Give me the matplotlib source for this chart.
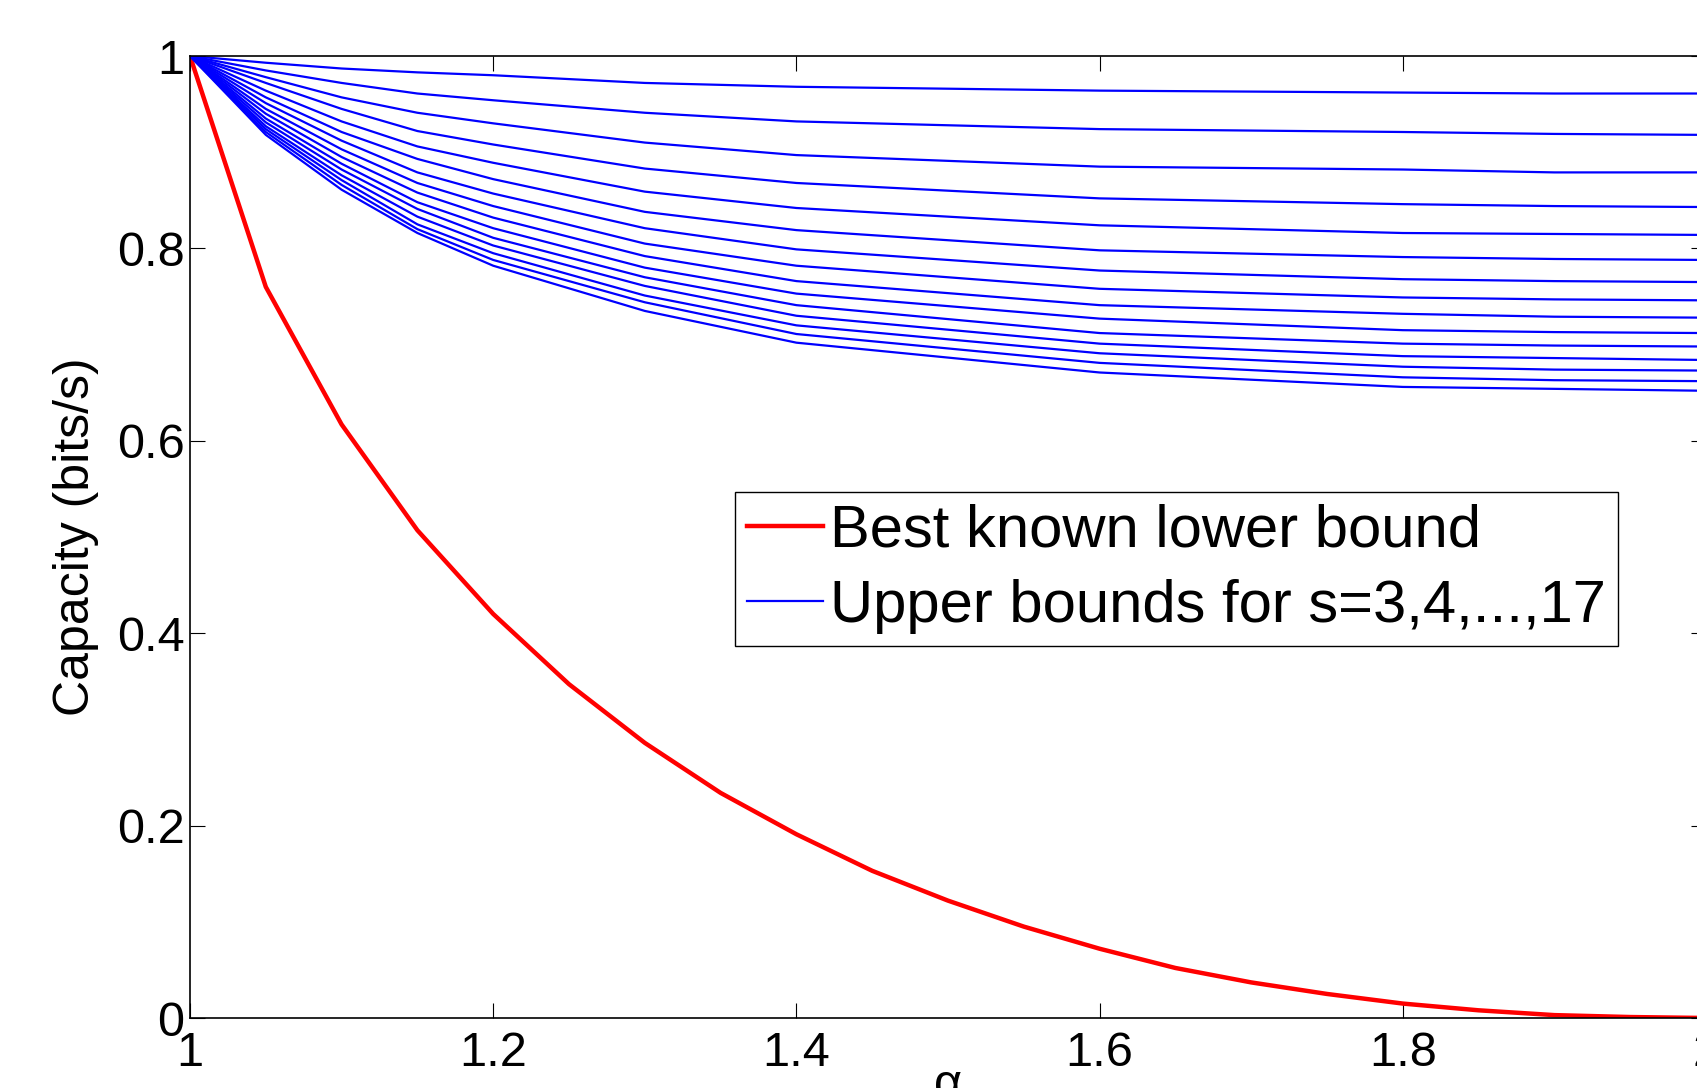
import numpy as np
import matplotlib
matplotlib.use('Agg')
import matplotlib.pyplot as plt

plt.rcParams['font.family'] = ['Liberation Sans', 'DejaVu Sans']

# lower bound, alpha = 1, 1.05, ..., 2
alpha_lb = [1.0, 1.05, 1.1, 1.15, 1.2, 1.25, 1.3, 1.35, 1.4, 1.45, 1.5,
            1.55, 1.6, 1.65, 1.7, 1.75, 1.8, 1.85, 1.9, 1.95, 2.0]
lower = [1.0, 0.760, 0.617, 0.507, 0.420, 0.347, 0.286, 0.234, 0.191, 0.153, 0.122,
         0.095, 0.072, 0.052, 0.037, 0.025, 0.015, 0.008, 0.003, 0.001, 0.0]

# upper bounds s=3..17 (rows = alpha values below)
alpha_ub = [1.0, 1.05, 1.1, 1.15, 1.2, 1.3, 1.4, 1.6, 1.8, 1.9, 2.0]
upper = [
    [1.0] * 15,
    [0.993, 0.985, 0.978, 0.972, 0.964, 0.957, 0.951, 0.945, 0.940, 0.935, 0.931, 0.927, 0.924, 0.921, 0.918],
    [0.987, 0.972, 0.957, 0.945, 0.932, 0.921, 0.912, 0.903, 0.895, 0.888, 0.882, 0.876, 0.871, 0.866, 0.861],
    [0.983, 0.961, 0.941, 0.922, 0.906, 0.893, 0.879, 0.868, 0.858, 0.848, 0.841, 0.833, 0.825, 0.820, 0.816],
    [0.980, 0.954, 0.930, 0.908, 0.889, 0.872, 0.857, 0.844, 0.832, 0.821, 0.811, 0.803, 0.795, 0.788, 0.782],
    [0.972, 0.941, 0.910, 0.883, 0.859, 0.838, 0.821, 0.805, 0.792, 0.780, 0.770, 0.761, 0.751, 0.744, 0.735],
    [0.968, 0.932, 0.897, 0.868, 0.842, 0.819, 0.799, 0.782, 0.766, 0.753, 0.741, 0.730, 0.720, 0.711, 0.702],
    [0.964, 0.924, 0.885, 0.852, 0.824, 0.798, 0.777, 0.758, 0.741, 0.727, 0.712, 0.701, 0.691, 0.681, 0.671],
    [0.962, 0.921, 0.882, 0.846, 0.816, 0.791, 0.768, 0.749, 0.732, 0.715, 0.701, 0.688, 0.677, 0.666, 0.656],
    [0.961, 0.919, 0.879, 0.844, 0.815, 0.789, 0.766, 0.747, 0.729, 0.713, 0.699, 0.686, 0.674, 0.663, 0.654],
    [0.961, 0.918, 0.879, 0.843, 0.814, 0.788, 0.765, 0.746, 0.728, 0.712, 0.698, 0.684, 0.673, 0.662, 0.652],
]
upper = np.array(upper)

W, H = 1697, 1088
fig = plt.figure(figsize=(W / 100, H / 100), dpi=100)
# axes runs past the right edge of the picture, like the original crop
ax = fig.add_axes([190 / W, (H - 1018) / H, (1706 - 190) / W, (1018 - 56) / H])

ax.plot(alpha_lb, lower, color='red', lw=3.2, label='Best known lower bound')
for k in range(upper.shape[1]):
    ax.plot(alpha_ub, upper[:, k], color='blue', lw=1.6,
            label='Upper bounds for s=3,4,...,17' if k == 0 else None)

ax.set_xlim(1, 2)
ax.set_ylim(0, 1)
ax.set_xticks([1, 1.2, 1.4, 1.6, 1.8, 2])
ax.set_xticklabels(['1', '1.2', '1.4', '1.6', '1.8', '2'])
ax.set_yticks([0, 0.2, 0.4, 0.6, 0.8, 1])
ax.set_yticklabels(['0', '0.2', '0.4', '0.6', '0.8', '1'])
ax.tick_params(direction='in', length=10.8, width=0.8, labelsize=35,
               top=True, right=True)
ax.tick_params(axis='x', pad=9)
ax.tick_params(axis='y', pad=4)
for sp in ax.spines.values():
    sp.set_linewidth(1.2)

ax.set_ylabel('Capacity (bits/s)', fontsize=36, va='center')
ax.yaxis.set_label_coords(-0.075, 0.5)
ax.set_xlabel('α', fontsize=35, va='baseline')
ax.xaxis.set_label_coords(0.5, -0.083)

leg = ax.legend(loc='upper left', bbox_to_anchor=(735 / W, 1 - 492 / H),
                bbox_transform=fig.transFigure, fontsize=43, frameon=True,
                fancybox=False, framealpha=1, edgecolor='black',
                handlelength=1.27, handletextpad=0.12, borderpad=0.2,
                labelspacing=0.34, borderaxespad=0)
leg.get_frame().set_linewidth(1.0)

fig.savefig('out.png', dpi=100)
